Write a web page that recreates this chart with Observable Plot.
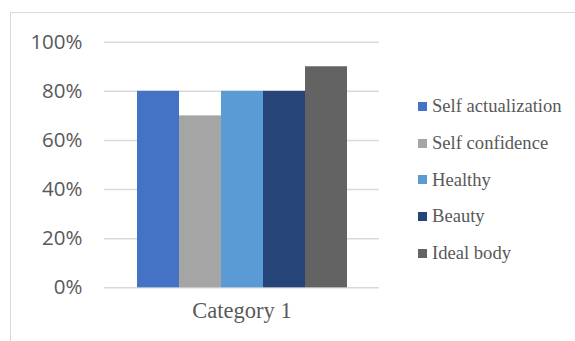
<!DOCTYPE html>
<html>
<head>
<meta charset="utf-8">
<script src="https://cdn.jsdelivr.net/npm/d3@7"></script>
<script src="https://cdn.jsdelivr.net/npm/@observablehq/plot@0.6"></script>
<style>
  html, body { margin: 0; padding: 0; background: #fff; }
  #wrap { position: relative; width: 575px; height: 341px; overflow: hidden; background: #fff; }
  #frame { position: absolute; left: 10px; top: 12px; width: 600px; height: 400px;
           border-left: 1.5px solid #d9d9d9; border-top: 1.5px solid #d9d9d9; box-sizing: border-box; }
  #chart { position: absolute; left: 0; top: 0; }
  #legend { position: absolute; left: 418px; top: 0; font-family: "Liberation Serif", "Times New Roman", serif;
            font-size: 18.6px; color: #595959; }
  .item { position: absolute; left: 0; white-space: nowrap; display: flex; align-items: center; height: 22px; }
  .sw { width: 9px; height: 9px; margin-right: 5px; flex: none; }
</style>
</head>
<body>
<div id="wrap">
  <div id="frame"></div>
  <div id="chart"></div>
  <div id="legend"></div>
</div>
<script>
const categories = ["Category 1"];
const series = ["Self actualization", "Self confidence", "Healthy", "Beauty", "Ideal body"];
const values = [0.80, 0.70, 0.80, 0.80, 0.90];
const colors = ["#4472C4", "#A5A5A5", "#5B9BD5", "#264478", "#636363"];
const yTicks = [0, 0.2, 0.4, 0.6, 0.8, 1.0];

const data = series.map((s, i) => ({category: categories[0], series: s, value: values[i]}));

const chart = Plot.plot({
  width: 575,
  height: 341,
  marginLeft: 104,
  marginRight: 196,
  marginTop: 41.7,
  marginBottom: 53.7,
  style: {background: "transparent", overflow: "visible"},
  x: {type: "band", domain: series, range: [136, 347], padding: 0, axis: null, label: null},
  y: {domain: [0, 1], axis: null, label: null},
  color: {domain: series, range: colors},
  marks: [
    Plot.ruleY(yTicks, {stroke: "#d9d9d9", strokeWidth: 1.5}),
    Plot.barY(data, {x: "series", y: "value", fill: "series"}),
    Plot.axisY(yTicks, {tickFormat: d3.format(".0%"), tickSize: 0, tickPadding: 22, label: null,
      fontSize: 20.5, fontFamily: "Open Sans, sans-serif", fill: "#595959", color: "#595959"}),
    Plot.text(categories, {text: d => d, frameAnchor: "bottom", dy: 30,
      fontSize: 22.5, fontFamily: "Liberation Serif, Times New Roman, serif", fill: "#595959"})
  ]
});
document.getElementById("chart").appendChild(chart);

const rowY = [106, 143, 179.5, 216, 253];
const legend = document.getElementById("legend");
series.forEach((s, i) => {
  const item = document.createElement("div");
  item.className = "item";
  item.style.top = (rowY[i] - 11) + "px";
  item.innerHTML = `<span class="sw" style="background:${colors[i]}"></span><span>${s}</span>`;
  legend.appendChild(item);
});
</script>
</body>
</html>
